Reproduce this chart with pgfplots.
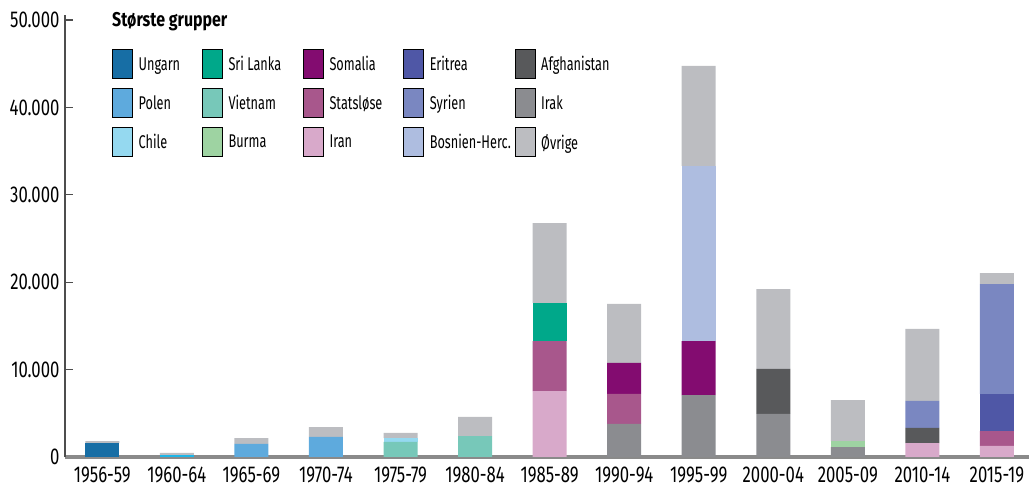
\documentclass[border=0pt]{standalone}
\usepackage{fontspec}
\setmainfont{Fira Sans}[FakeStretch=0.8]
\newfontfamily\tickfont{Fira Sans}[FakeStretch=0.73]
\newfontfamily\legfont{Fira Sans}[FakeStretch=0.69]
\usepackage{pgfplots}
\pgfplotsset{compat=1.18}
\definecolor{cUngarn}{HTML}{176EA5}
\definecolor{cPolen}{HTML}{5EAADD}
\definecolor{cChile}{HTML}{95D9F0}
\definecolor{cCyan}{HTML}{1CB6E8}
\definecolor{cSri}{HTML}{00A88A}
\definecolor{cViet}{HTML}{77C8B9}
\definecolor{cBurma}{HTML}{9ED3A2}
\definecolor{cSom}{HTML}{830C70}
\definecolor{cStat}{HTML}{A8578C}
\definecolor{cIran}{HTML}{D8A9CA}
\definecolor{cEri}{HTML}{4F57A6}
\definecolor{cSyr}{HTML}{7A87C1}
\definecolor{cBos}{HTML}{AEBDE0}
\definecolor{cAfg}{HTML}{58595B}
\definecolor{cIrak}{HTML}{8B8C90}
\definecolor{cOvr}{HTML}{BCBDC1}
\definecolor{xaxisc}{HTML}{8A8A8A}
\definecolor{yaxisc}{HTML}{4D4D4D}
\begin{document}
\begin{tikzpicture}
\begin{axis}[
  at={(65bp,30bp)}, anchor=south west,
  scale only axis, width=964bp, height=442bp,
  xmin=-0.5, xmax=12.43, ymin=0, ymax=50570,
  ybar stacked, bar width=34bp,
  axis x line=bottom, axis y line=left,
  axis line style={-},
  x axis line style={draw=xaxisc, line width=3bp},
  y axis line style={draw=yaxisc, line width=1.3bp},
  xtick={0,...,12},
  xticklabels={1956-59,1960-64,1965-69,1970-74,1975-79,1980-84,1985-89,1990-94,1995-99,2000-04,2005-09,2010-14,2015-19},
  xtick style={draw=none},
  xticklabel style={font=\tickfont\fontsize{23}{23}\selectfont, text=black, inner sep=0pt, yshift=-10bp},
  ytick={0,10000,20000,30000,40000,50000},
  tick align=inside, major tick length=8bp,
  ytick style={draw=yaxisc, line width=1.2bp},
  yticklabel style={font=\tickfont\fontsize{23}{23}\selectfont, text=black, xshift=-2bp},
  scaled y ticks=false,
  /pgf/number format/.cd, 1000 sep={.}, assume math mode=true,
  /pgfplots/.cd,
  legend columns=5,
  legend cell align=left,
  legend style={at={(rel axis cs:0.0488,0.923)}, anchor=north west, draw=none, fill=none,
    inner sep=0pt, font=\legfont\fontsize{18.5}{18.5}\selectfont, row sep=9.5bp,
    nodes={inner sep=0pt},
    /tikz/every odd column/.append style={column sep=6bp},
    /tikz/column 2/.style={column sep=22bp},
    /tikz/column 4/.style={column sep=22bp},
    /tikz/column 6/.style={column sep=21bp},
    /tikz/column 8/.style={column sep=4bp}},
  legend image code/.code={\fill[#1] (0bp,-14bp) rectangle (20bp,15bp);},
  clip=false,
]
% stacking order (bottom to top)
\addplot[fill=cUngarn, draw=none, forget plot] coordinates {(0,1600) (1,0) (2,0) (3,0) (4,0) (5,0) (6,0) (7,0) (8,0) (9,0) (10,0) (11,0) (12,0)};
\addplot[fill=cCyan, draw=none, forget plot] coordinates {(0,0) (1,250) (2,0) (3,0) (4,0) (5,0) (6,0) (7,0) (8,0) (9,0) (10,0) (11,0) (12,0)};
\addplot[fill=cPolen, draw=none, forget plot] coordinates {(0,0) (1,0) (2,1490) (3,2290) (4,0) (5,0) (6,0) (7,0) (8,0) (9,0) (10,0) (11,0) (12,0)};
\addplot[fill=cViet, draw=none, forget plot] coordinates {(0,0) (1,0) (2,0) (3,0) (4,1720) (5,2400) (6,0) (7,0) (8,0) (9,0) (10,0) (11,0) (12,0)};
\addplot[fill=cChile, draw=none, forget plot] coordinates {(0,0) (1,0) (2,0) (3,0) (4,450) (5,0) (6,0) (7,0) (8,0) (9,0) (10,0) (11,0) (12,0)};
\addplot[fill=cIran, draw=none, forget plot] coordinates {(0,0) (1,0) (2,0) (3,0) (4,0) (5,0) (6,7550) (7,0) (8,0) (9,0) (10,0) (11,1600) (12,1260)};
\addplot[fill=cIrak, draw=none, forget plot] coordinates {(0,0) (1,0) (2,0) (3,0) (4,0) (5,0) (6,0) (7,3780) (8,7090) (9,4920) (10,1140) (11,0) (12,0)};
\addplot[fill=cStat, draw=none, forget plot] coordinates {(0,0) (1,0) (2,0) (3,0) (4,0) (5,0) (6,5720) (7,3430) (8,0) (9,0) (10,0) (11,0) (12,1710)};
\addplot[fill=cSri, draw=none, forget plot] coordinates {(0,0) (1,0) (2,0) (3,0) (4,0) (5,0) (6,4350) (7,0) (8,0) (9,0) (10,0) (11,0) (12,0)};
\addplot[fill=cSom, draw=none, forget plot] coordinates {(0,0) (1,0) (2,0) (3,0) (4,0) (5,0) (6,0) (7,3550) (8,6180) (9,0) (10,0) (11,0) (12,0)};
\addplot[fill=cBos, draw=none, forget plot] coordinates {(0,0) (1,0) (2,0) (3,0) (4,0) (5,0) (6,0) (7,0) (8,20030) (9,0) (10,0) (11,0) (12,0)};
\addplot[fill=cBurma, draw=none, forget plot] coordinates {(0,0) (1,0) (2,0) (3,0) (4,0) (5,0) (6,0) (7,0) (8,0) (9,0) (10,660) (11,0) (12,0)};
\addplot[fill=cAfg, draw=none, forget plot] coordinates {(0,0) (1,0) (2,0) (3,0) (4,0) (5,0) (6,0) (7,0) (8,0) (9,5150) (10,0) (11,1720) (12,0)};
\addplot[fill=cEri, draw=none, forget plot] coordinates {(0,0) (1,0) (2,0) (3,0) (4,0) (5,0) (6,0) (7,0) (8,0) (9,0) (10,0) (11,0) (12,4240)};
\addplot[fill=cSyr, draw=none, forget plot] coordinates {(0,0) (1,0) (2,0) (3,0) (4,0) (5,0) (6,0) (7,0) (8,0) (9,0) (10,0) (11,3090) (12,12580)};
\addplot[fill=cOvr, draw=none, forget plot] coordinates {(0,230) (1,230) (2,680) (3,1140) (4,580) (5,2180) (6,9150) (7,6750) (8,11440) (9,9150) (10,4720) (11,8240) (12,1260)};
% legend (row-wise)
\addlegendimage{fill=cUngarn}\addlegendentry{Ungarn}
\addlegendimage{fill=cSri}\addlegendentry{Sri Lanka}
\addlegendimage{fill=cSom}\addlegendentry{Somalia}
\addlegendimage{fill=cEri}\addlegendentry{Eritrea}
\addlegendimage{fill=cAfg}\addlegendentry{Afghanistan}
\addlegendimage{fill=cPolen}\addlegendentry{Polen}
\addlegendimage{fill=cViet}\addlegendentry{Vietnam}
\addlegendimage{fill=cStat}\addlegendentry{Statsløse}
\addlegendimage{fill=cSyr}\addlegendentry{Syrien}
\addlegendimage{fill=cIrak}\addlegendentry{Irak}
\addlegendimage{fill=cChile}\addlegendentry{Chile}
\addlegendimage{fill=cBurma}\addlegendentry{Burma}
\addlegendimage{fill=cIran}\addlegendentry{Iran}
\addlegendimage{fill=cBos}\addlegendentry{Bosnien-Herc.}
\addlegendimage{fill=cOvr}\addlegendentry{Øvrige}
\node[anchor=base west, font=\bfseries\fontsize{20}{20}\selectfont, inner sep=0pt] at (rel axis cs:0.0488,0.973) {Største grupper};
\end{axis}
\pgfresetboundingbox
\path (0bp,0bp) rectangle (1029bp,487bp);
\end{tikzpicture}
\end{document}
